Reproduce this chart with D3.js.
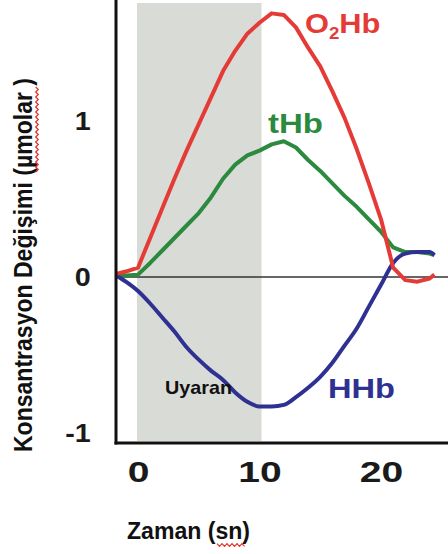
<!DOCTYPE html>
<html>
<head>
<meta charset="utf-8">
<script src="https://cdn.jsdelivr.net/npm/d3@7"></script>
<style>
  body { margin: 0; background: #fff; }
  text { font-family: "Liberation Sans", Arial, sans-serif; }
</style>
</head>
<body>
<div id="chart"></div>
<script>
// time in seconds, concentration change in µmolar
const time = [-1.8, -1, 0, 1, 2, 3, 4, 5, 6, 7, 8, 9, 10, 11, 12, 13, 14, 15, 16, 17, 18, 19, 20, 21, 22, 23, 24, 24.4];
const o2hb = [0.02, 0.035, 0.06, 0.25, 0.44, 0.63, 0.81, 0.98, 1.15, 1.32, 1.45, 1.56, 1.63, 1.69, 1.68, 1.60, 1.47, 1.35, 1.19, 1.02, 0.82, 0.60, 0.37, 0.06, -0.02, -0.03, -0.01, 0.015];
const thb = [0.005, 0.01, 0.015, 0.09, 0.17, 0.25, 0.33, 0.41, 0.51, 0.63, 0.72, 0.78, 0.81, 0.85, 0.87, 0.83, 0.75, 0.68, 0.60, 0.52, 0.45, 0.37, 0.29, 0.19, 0.16, 0.16, 0.15, 0.14];
const hhb = [0.01, -0.03, -0.09, -0.17, -0.26, -0.35, -0.45, -0.53, -0.60, -0.66, -0.74, -0.80, -0.83, -0.83, -0.82, -0.77, -0.71, -0.64, -0.55, -0.44, -0.33, -0.19, -0.05, 0.09, 0.15, 0.16, 0.16, 0.14];
const xTicks = [0, 10, 20];
const yTicks = [-1, 0, 1];
const stimulus = [0, 10];

const width = 448, height = 554;
const axisLeftX = 116, axisBottomY = 443;

const svg = d3.select("#chart").append("svg")
  .attr("width", width)
  .attr("height", height);

const x = d3.scaleLinear().domain([0, 20]).range([138, 381]);
const y = d3.scaleLinear().domain([-1, 1]).range([433, 121]);

// stimulus window
svg.append("rect")
  .attr("x", x(stimulus[0]) - 1)
  .attr("y", 3)
  .attr("width", x(stimulus[1]) - x(stimulus[0]) + 3)
  .attr("height", axisBottomY - 5)
  .attr("fill", "#d9dbd7");

// zero line
svg.append("line")
  .attr("x1", axisLeftX).attr("x2", width)
  .attr("y1", y(0)).attr("y2", y(0))
  .attr("stroke", "#333").attr("stroke-width", 1.6);

const series = [
  { values: thb, color: "#2b8a3e", curve: d3.curveLinear },
  { values: hhb, color: "#2e3192", curve: d3.curveMonotoneX },
  { values: o2hb, color: "#e53b37", curve: d3.curveLinear }
];

svg.append("g")
  .selectAll("path")
  .data(series)
  .join("path")
    .attr("d", d => d3.line()
      .x((v, i) => x(time[i]))
      .y(v => y(v))
      .curve(d.curve)(d.values))
    .attr("fill", "none")
    .attr("stroke", d => d.color)
    .attr("stroke-width", 4)
    .attr("stroke-linejoin", "round");

// axes lines
svg.append("line")
  .attr("x1", axisLeftX).attr("x2", axisLeftX)
  .attr("y1", 0).attr("y2", axisBottomY + 1.5)
  .attr("stroke", "#111").attr("stroke-width", 3);
svg.append("line")
  .attr("x1", axisLeftX - 1.5).attr("x2", width)
  .attr("y1", axisBottomY).attr("y2", axisBottomY)
  .attr("stroke", "#111").attr("stroke-width", 3);

const xAxis = g => {
  g.attr("transform", `translate(0, ${axisBottomY})`)
    .call(d3.axisBottom(x).tickValues(xTicks).tickSize(0).tickPadding(18))
    .call(g => g.select(".domain").remove());
  g.selectAll("text")
    .attr("font-size", "30px")
    .attr("font-weight", "bold")
    .attr("font-family", "Liberation Sans, Arial, sans-serif")
    .attr("fill", "#1a1a1a")
    .attr("transform", "scale(1.3,1)");
};

const yAxis = g => {
  g.attr("transform", `translate(${axisLeftX}, 0)`)
    .call(d3.axisLeft(y).tickValues(yTicks).tickFormat(d => String(d)).tickSize(0).tickPadding(22))
    .call(g => g.select(".domain").remove());
  g.selectAll("text")
    .attr("font-size", "25px")
    .attr("font-weight", "bold")
    .attr("font-family", "Liberation Sans, Arial, sans-serif")
    .attr("fill", "#1a1a1a")
    .attr("transform", "scale(1.15,1)");
};

svg.append("g").call(xAxis);
svg.append("g").call(yAxis);

// series labels
const o2 = svg.append("text")
  .attr("transform", "translate(305,33) scale(1.1,1)")
  .attr("font-size", "28px")
  .attr("font-weight", "bold")
  .attr("fill", "#e53b37");
o2.append("tspan").text("O");
o2.append("tspan").attr("font-size", "17px").attr("dy", 6).text("2");
o2.append("tspan").attr("dy", -6).text("Hb");

svg.append("text")
  .attr("x", 268).attr("y", 133)
  .attr("font-size", "28px").attr("font-weight", "bold")
  .attr("textLength", 55).attr("lengthAdjust", "spacingAndGlyphs")
  .attr("fill", "#2b8a3e")
  .text("tHb");

svg.append("text")
  .attr("x", 328).attr("y", 398)
  .attr("font-size", "28px").attr("font-weight", "bold")
  .attr("textLength", 67).attr("lengthAdjust", "spacingAndGlyphs")
  .attr("fill", "#2e3192")
  .text("HHb");

svg.append("text")
  .attr("x", 165).attr("y", 394)
  .attr("font-family", "Open Sans, sans-serif")
  .attr("font-size", "19px").attr("font-weight", "bold")
  .attr("textLength", 67).attr("lengthAdjust", "spacingAndGlyphs")
  .attr("fill", "#111")
  .text("Uyaran");

// axis titles
svg.append("text")
  .attr("transform", "translate(32,452) rotate(-90) scale(1,1.2)")
  .attr("font-family", "Open Sans, sans-serif")
  .attr("font-size", "22px").attr("font-weight", "bold")
  .attr("textLength", 374).attr("lengthAdjust", "spacingAndGlyphs")
  .attr("fill", "#111")
  .text("Konsantrasyon Değişimi (µmolar )");

svg.append("text")
  .attr("x", 127).attr("y", 539)
  .attr("font-family", "Open Sans, sans-serif")
  .attr("font-size", "23px").attr("font-weight", "bold")
  .attr("textLength", 123).attr("lengthAdjust", "spacingAndGlyphs")
  .attr("fill", "#111")
  .text("Zaman (sn)");

// spell-check squiggles
const squiggle = (x0, y0, len, vertical) => {
  const pts = [];
  for (let i = 0; i <= len; i += 2.5) {
    const off = (Math.round(i / 2.5) % 2 === 0) ? -1.3 : 1.3;
    pts.push(vertical ? [x0 + off, y0 - i] : [x0 + i, y0 + off]);
  }
  svg.append("path")
    .attr("d", d3.line()(pts))
    .attr("fill", "none")
    .attr("stroke", "#e0302a")
    .attr("stroke-width", 1.2);
};
squiggle(37, 172, 86, true);
squiggle(217, 545, 28, false);
</script>
</body>
</html>
